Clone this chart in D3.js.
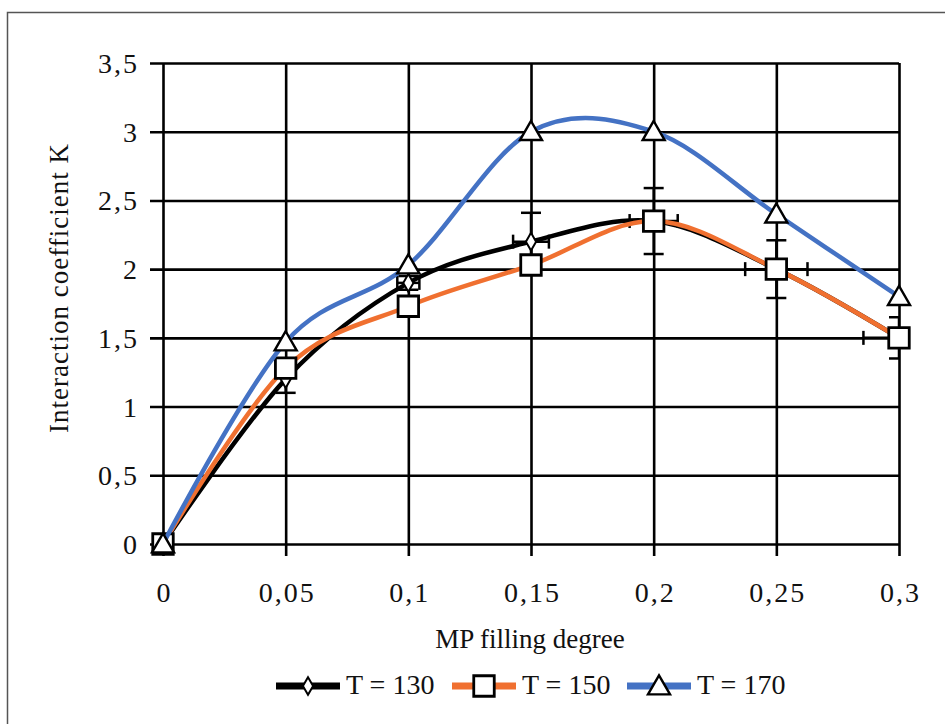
<!DOCTYPE html>
<html>
<head>
<meta charset="utf-8">
<title>Interaction coefficient K vs MP filling degree</title>
<script src="https://cdnjs.cloudflare.com/ajax/libs/d3/7.8.5/d3.min.js"></script>
<style>
    body, html {
        margin: 0;
        padding: 0;
        background: #fff;
    }
    svg text {
        font-family: "Liberation Serif", "DejaVu Serif", serif;
        fill: #111;
    }
</style>
</head>
<body>
<div id="chart"></div>
<script>
    // data
    var fill = [0, 0.05, 0.1, 0.15, 0.2, 0.25, 0.3];
    var k130 = [0, 1.2, 1.9, 2.2, 2.35, 2.0, 1.5];
    var k150 = [0, 1.28, 1.73, 2.03, 2.35, 2.0, 1.5];
    var k170 = [0, 1.47, 2.03, 3.0, 3.0, 2.4, 1.8];
    // error bars (belong to T = 130)
    var errY130 = [0, 0.1, 0.05, 0.21, 0.24, 0.21, 0.15];
    var errX130 = [0, 0, 0.0045, 0.0073, 0.0098, 0.0127, 0.0145];
    var xTicks = [0, 0.05, 0.1, 0.15, 0.2, 0.25, 0.3];
    var yTicks = [0, 0.5, 1, 1.5, 2, 2.5, 3, 3.5];
    var seriesNames = ['T = 130', 'T = 150', 'T = 170'];

    var W = 945, H = 724;
    var pLeft = 163, pRight = 899, pTop = 63, pBottom = 544;

    var svg = d3.select('#chart').append('svg')
        .attr('width', W)
        .attr('height', H);

    // frame of the figure (top and left only visible)
    svg.append('path')
        .attr('d', 'M7.5,' + H + 'V12.5H' + W)
        .attr('fill', 'none')
        .attr('stroke', '#555')
        .attr('stroke-width', 1.5);

    var x = d3.scaleLinear().domain([0, 0.3]).range([pLeft, pRight]);
    var y = d3.scaleLinear().domain([0, 3.5]).range([pBottom, pTop]);

    var fmt = function (d) { return String(d).replace('.', ','); };

    // y grid + axis
    var gy = svg.append('g')
        .attr('transform', 'translate(' + pLeft + ',0)')
        .call(d3.axisLeft(y).tickValues(yTicks).tickFormat(fmt).tickSizeOuter(0).tickPadding(0));
    gy.select('.domain').remove();
    gy.selectAll('.tick line')
        .attr('x1', -13)
        .attr('x2', pRight - pLeft)
        .attr('stroke', '#000')
        .attr('stroke-width', 2.6);
    gy.selectAll('.tick text')
        .attr('x', -24)
        .attr('dy', '0.34em')
        .style('font-size', '28px')
        .style('letter-spacing', '2px');

    // x grid + axis
    var gx = svg.append('g')
        .attr('transform', 'translate(0,' + pBottom + ')')
        .call(d3.axisBottom(x).tickValues(xTicks).tickFormat(fmt).tickSizeOuter(0));
    gx.select('.domain').remove();
    gx.selectAll('.tick line')
        .attr('y1', 12)
        .attr('y2', pTop - pBottom)
        .attr('stroke', '#000')
        .attr('stroke-width', 2.6);
    gx.selectAll('.tick text')
        .attr('y', 58)
        .attr('dy', 0)
        .attr('dx', 1)
        .style('font-size', '28px')
        .style('letter-spacing', '2px');

    // axis titles
    svg.append('text')
        .attr('x', 530)
        .attr('y', 648)
        .attr('text-anchor', 'middle')
        .style('font-size', '27px')
        .text('MP filling degree');

    svg.append('text')
        .attr('transform', 'translate(68,' + 288 + ') rotate(-90)')
        .attr('text-anchor', 'middle')
        .style('font-size', '27px')
        .style('letter-spacing', '1px')
        .text('Interaction coefficient K');

    var line = d3.line()
        .x(function (d) { return x(d[0]); })
        .y(function (d) { return y(d[1]); })
        .curve(d3.curveCardinal.tension(0));

    var diamond = d3.symbol().type(d3.symbolDiamond).size(90);
    var square = d3.symbol().type(d3.symbolSquare).size(420);
    var triangle = d3.symbol().type(d3.symbolTriangle).size(210);

    var series = [
        {name: seriesNames[0], vals: k130, color: '#000000', sym: diamond, sw: 2},
        {name: seriesNames[1], vals: k150, color: '#F07030', sym: square, sw: 2.8},
        {name: seriesNames[2], vals: k170, color: '#4472C4', sym: triangle, sw: 2.4}
    ];

    svg.append('clipPath').attr('id', 'plot')
        .append('rect')
        .attr('x', pLeft - 20).attr('y', pTop - 20)
        .attr('width', pRight - pLeft + 21).attr('height', pBottom - pTop + 40);

    var plot = svg.append('g');

    series.forEach(function (s, si) {
        var pts = fill.map(function (f, i) { return [f, s.vals[i]]; });
        var g = plot.append('g');

        g.append('path')
            .datum(pts)
            .attr('d', line)
            .attr('fill', 'none')
            .attr('stroke', s.color)
            .attr('stroke-width', 4.5);

        if (si === 0) {
            var eg = g.append('g')
                .attr('clip-path', 'url(#plot)')
                .attr('stroke', '#000')
                .attr('stroke-width', 2.5);
            pts.forEach(function (p, i) {
                var ey = errY130[i], ex = errX130[i];
                if (ey > 0) {
                    eg.append('line')
                        .attr('x1', x(p[0])).attr('x2', x(p[0]))
                        .attr('y1', y(p[1] - ey)).attr('y2', y(p[1] + ey));
                    [p[1] - ey, p[1] + ey].forEach(function (v) {
                        eg.append('line')
                            .attr('x1', x(p[0]) - 10).attr('x2', x(p[0]) + 10)
                            .attr('y1', y(v)).attr('y2', y(v));
                    });
                }
                if (ex > 0) {
                    eg.append('line')
                        .attr('x1', x(p[0] - ex)).attr('x2', Math.min(x(p[0] + ex), pRight))
                        .attr('y1', y(p[1])).attr('y2', y(p[1]));
                    [p[0] - ex, p[0] + ex].forEach(function (v) {
                        if (x(v) > pRight + 1) return;
                        eg.append('line')
                            .attr('x1', x(v)).attr('x2', x(v))
                            .attr('y1', y(p[1]) - 7).attr('y2', y(p[1]) + 7);
                    });
                }
            });
        }

        g.selectAll('path.mk')
            .data(pts)
            .enter()
            .append('path')
            .attr('class', 'mk')
            .attr('d', s.sym)
            .attr('transform', function (d) {
                var dy = s.sym === triangle ? 2 : 0;
                return 'translate(' + x(d[0]) + ',' + (y(d[1]) + dy) + ')';
            })
            .attr('fill', '#fff')
            .attr('stroke', '#000')
            .attr('stroke-width', s.sw);
    });

    // legend
    var legX = [276, 452, 627];
    var lg = svg.append('g');
    series.forEach(function (s, i) {
        var gx0 = legX[i];
        lg.append('line')
            .attr('x1', gx0).attr('x2', gx0 + 64)
            .attr('y1', 686).attr('y2', 686)
            .attr('stroke', s.color)
            .attr('stroke-width', 7);
        lg.append('path')
            .attr('d', s.sym)
            .attr('transform', 'translate(' + (gx0 + 32) + ',' + (686 + (s.sym === triangle ? 2 : 0)) + ')')
            .attr('fill', '#fff')
            .attr('stroke', '#000')
            .attr('stroke-width', s.sw);
        lg.append('text')
            .attr('x', gx0 + 70)
            .attr('y', 694)
            .style('font-size', '28px')
            .text(s.name);
    });
</script>
</body>
</html>
